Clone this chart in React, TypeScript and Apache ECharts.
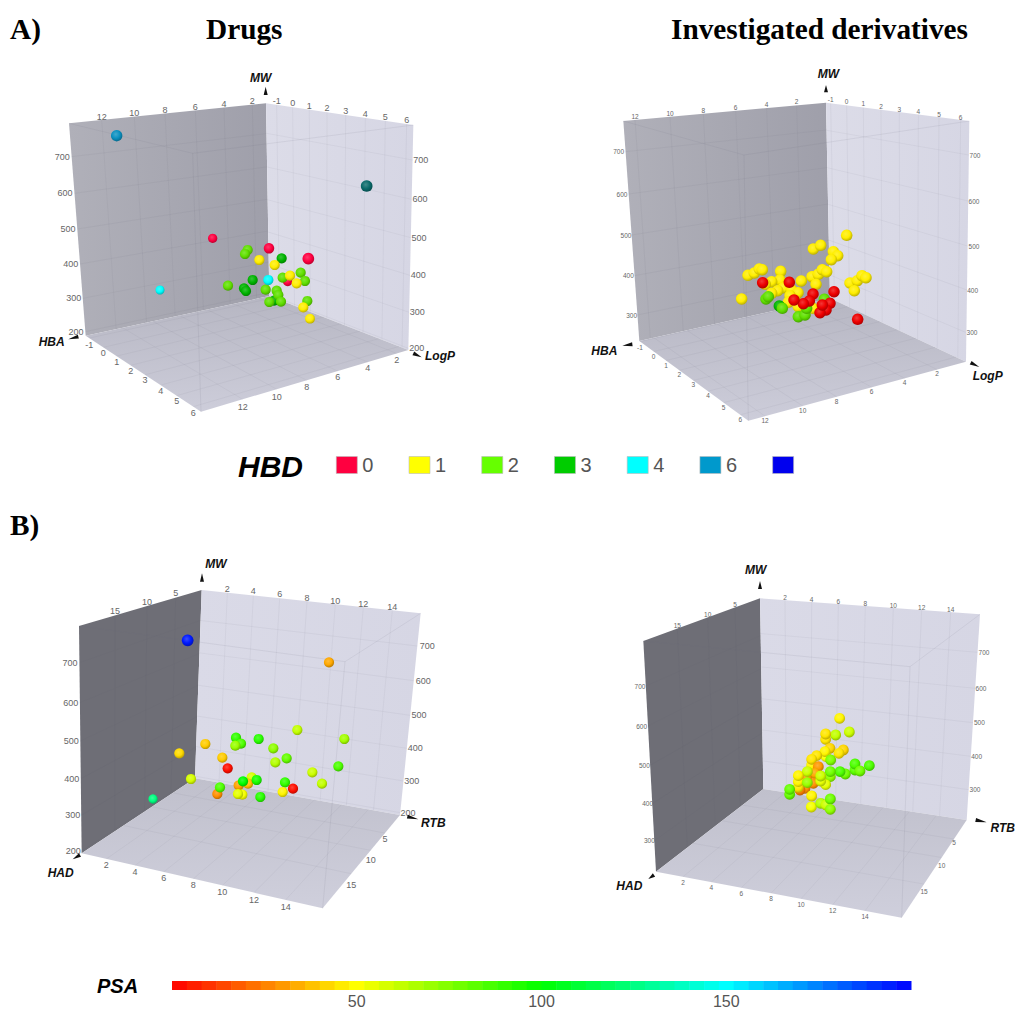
import React, { useEffect, useRef } from "react";
import * as echarts from "echarts";

// ---- tick labels -------------------------------------------------------
const mwTicks = ["700", "600", "500", "400", "300", "200"];
const mwTicksShort = ["700", "600", "500", "400", "300"];
const hbaTicks = ["-1", "0", "1", "2", "3", "4", "5", "6"];
const logPTicks = ["12", "10", "8", "6", "4", "2"];
const hadTicks = ["2", "4", "6", "8", "10", "12", "14"];
const rtbTicks = ["5", "10", "15"];

// ---- HBD classes, values read in each panel's projected plane [h, v, depth]
const drugsHbd0 = [[638, 535, 0.2], [807, 565, 0.6], [925, 596, 1], [863, 664, 0.3]];
const drugsHbd1 = [[778, 600], [824, 615], [870, 647], [890, 670], [910, 742], [930, 776, 0.4]];
const drugsHbd2 = [[743, 570], [735, 582], [684, 677], [797, 689], [830, 692], [835, 705], [808, 726], [843, 725], [848, 653], [902, 638], [915, 663], [922, 723]];
const drugsHbd3 = [[845, 595], [758, 660], [732, 685], [738, 693], [822, 722]];
const drugsHbd4 = [[805, 660], [480, 690, 0.1]];
const drugsHbd6 = [[350, 227, 0.9]];
const drugsHbdOuter = [[1100, 378, 1]];

const derivHbd0 = [[608, 668], [688, 667], [822, 695], [759, 702], [748, 723], [730, 731], [810, 730], [798, 750], [780, 758], [787, 735], [893, 778], [702, 720]];
const derivHbd1 = [[860, 526], [760, 567], [782, 556], [820, 575], [833, 587], [814, 599], [662, 634], [564, 646], [583, 639], [598, 627], [607, 629], [756, 650], [775, 643], [787, 629], [800, 635], [768, 673], [724, 663], [660, 660], [635, 665], [616, 673], [670, 683], [653, 692], [635, 700], [695, 690], [714, 698], [545, 717], [870, 669], [892, 662], [906, 647], [918, 653], [883, 692], [690, 707], [685, 727], [705, 720], [715, 740], [758, 745], [785, 740]];
const derivHbd2 = [[618, 717], [625, 710], [667, 745], [793, 718], [715, 770], [735, 765], [740, 745]];
const derivHbd3 = [[658, 738]];

// ---- PSA coloured points [h, v, psa, depth]
const drugsPsa = [
  [473, 271, 195, 1], [897, 337, 33], [802, 540, 62], [943, 567, 68], [618, 563, 90], [633, 581, 85], [616, 587, 70],
  [686, 567, 92], [730, 595, 72], [526, 582, 40], [448, 610, 43], [577, 623, 40], [770, 625, 80], [736, 637, 65],
  [593, 655, 3], [925, 649, 85], [847, 667, 60], [876, 701, 62], [483, 687, 58], [665, 682, 58], [654, 701, 38],
  [626, 706, 32], [680, 690, 95], [639, 694, 100], [765, 697, 90], [789, 716, 3], [758, 726, 48], [562, 732, 28],
  [570, 712, 85], [637, 734, 52], [624, 732, 55], [691, 741, 92], [369, 747, 125, 0.2],
];
const derivPsa = [
  [719, 490, 48], [748, 531, 60], [707, 540, 62], [677, 553, 45], [677, 537, 45], [690, 580, 42], [730, 585, 42],
  [717, 595, 45], [678, 605, 50], [675, 590, 48], [650, 602, 45], [635, 630, 48], [635, 613, 45], [655, 635, 30],
  [645, 655, 33], [620, 670, 30], [640, 685, 28], [615, 700, 28], [600, 705, 25], [692, 615, 75], [765, 645, 82],
  [765, 627, 85], [780, 648, 78], [808, 632, 85], [736, 657, 78], [720, 650, 85], [691, 665, 72], [691, 650, 78],
  [677, 689, 55], [662, 678, 55], [662, 663, 60], [622, 650, 60], [595, 697, 45], [595, 680, 48], [595, 662, 48],
  [622, 683, 70], [569, 718, 80], [569, 703, 80], [635, 723, 48], [634, 756, 52], [662, 745, 65], [678, 750, 60],
  [691, 732, 78], [691, 763, 72],
];

// ---- colour key
const hbdColors: Record<string, string> = { "0": "#ff0040", "1": "#ffff00", "2": "#66ff00", "3": "#00cc00", "4": "#00ffff", "6": "#0099cc", " ": "#0000ee" };
const legendNames = ["0", "1", "2", "3", "4", "6", " "];
const psaStops = ["#ff0000", "#ffff00", "#00ff00", "#00ffff", "#0000ff"];
const psaBands = Array.from({ length: 50 }, (_, i) => [i * 4, i * 4 + 4]);

// ---- helpers
const hex = (c: string) => [1, 3, 5].map((i) => parseInt(c.slice(i, i + 2), 16));
const mix = (a: string, b: string, t: number) => {
  const A = hex(a), B = hex(b);
  const m = A.map((v, i) => Math.round(v + (B[i] - v) * t));
  return "#" + m.map((v) => v.toString(16).padStart(2, "0")).join("");
};
const psaColor = (v: number) => {
  const p = Math.max(0, Math.min(199.99, v)) / 50;
  const i = Math.floor(p);
  return mix(psaStops[i], psaStops[i + 1], p - i);
};
const ball = (c: string) =>
  new echarts.graphic.RadialGradient(0.42, 0.38, 0.66, [
    { offset: 0, color: mix(c, "#ffffff", 0.22) },
    { offset: 0.55, color: c },
    { offset: 1, color: mix(c, "#000000", 0.3) },
  ]);
const at = (a: number[], b: number[], t: number) => [a[0] + (b[0] - a[0]) * t, a[1] + (b[1] - a[1]) * t];

type Pt = number[];
interface Panel {
  box: { left: number; top: number; w: number; h: number };
  LT: Pt; LB: Pt; BT: Pt; BB: Pt; RT: Pt; RB: Pt; FB: Pt; FT: Pt;
  leftWall: string[]; rightWall: string[]; floor: string[];
  font: number;
  mwL: { t: string[]; p: Pt[] };
  mwR: { t: string[]; p: Pt[] };
  topL: { t: string[]; p: Pt[] };
  topR: { t: string[]; p: Pt[] };
  floorA: { t: string[]; p: Pt[] };
  floorB: { t: string[]; p: Pt[] };
  titles: [string, number, number][];
  arrows: number[][];
}

const panelA1: Panel = {
  box: { left: 0, top: 60, w: 480, h: 370 },
  LT: [207, 190], LB: [257, 827], BT: [798, 130], BB: [808, 708], RT: [1240, 195], RB: [1225, 870], FB: [603, 1055], FT: [578, 280],
  leftWall: ["#b0b0b9", "#9f9faa"], rightWall: ["#dcdce8", "#d6d6e4"], floor: ["#b6b6c2", "#cdcdda"],
  font: 9,
  mwL: { t: mwTicks, p: [[187, 290], [195, 400], [204, 507], [212, 612], [221, 715], [228, 815]] },
  mwR: { t: mwTicks, p: [[1262, 300], [1260, 418], [1257, 533], [1255, 646], [1252, 757], [1250, 865]] },
  topL: { t: logPTicks, p: [[305, 170], [403, 160], [495, 150], [586, 141], [672, 132], [757, 123]] },
  topR: { t: hbaTicks, p: [[830, 123], [878, 129], [928, 137], [981, 145], [1037, 153], [1096, 161], [1156, 170], [1220, 179]] },
  floorA: { t: hbaTicks, p: [[268, 855], [310, 878], [350, 905], [392, 932], [435, 960], [482, 992], [530, 1023], [580, 1058]] },
  floorB: { t: logPTicks, p: [[728, 1040], [830, 1010], [920, 980], [1013, 952], [1103, 925], [1190, 900]] },
  titles: [["MW", 782, 53], ["HBA", 155, 847], ["LogP", 1320, 888]],
  arrows: [[797, 105, 797, 80], [235, 830, 205, 838], [1240, 880, 1265, 892]],
};
const panelA2: Panel = {
  box: { left: 560, top: 60, w: 455, h: 380 },
  LT: [190, 183], LB: [238, 843], BT: [798, 128], BB: [810, 715], RT: [1228, 183], RB: [1218, 905], FB: [565, 1082], FT: [552, 285],
  leftWall: ["#b0b0b9", "#9f9faa"], rightWall: ["#dcdce8", "#d6d6e4"], floor: ["#b6b6c2", "#cdcdda"],
  font: 6.5,
  mwL: { t: mwTicksShort, p: [[176, 275], [186, 402], [198, 525], [205, 647], [215, 765]] },
  mwR: { t: mwTicksShort, p: [[1245, 285], [1242, 423], [1242, 558], [1238, 690], [1236, 818]] },
  topL: { t: logPTicks, p: [[225, 170], [330, 160], [430, 152], [527, 143], [620, 133], [710, 125]] },
  topR: { t: hbaTicks, p: [[812, 118], [860, 124], [910, 131], [963, 140], [1018, 147], [1075, 155], [1137, 163], [1202, 172]] },
  floorA: { t: hbaTicks, p: [[240, 862], [281, 888], [318, 915], [358, 944], [400, 974], [444, 1006], [491, 1041], [541, 1077]] },
  floorB: { t: logPTicks, p: [[615, 1082], [728, 1052], [830, 1023], [935, 994], [1034, 966], [1131, 939]] },
  titles: [["MW", 805, 43], ["HBA", 133, 874], ["LogP", 1283, 948]],
  arrows: [[798, 97, 798, 75], [217, 853, 187, 857], [1232, 908, 1258, 921]],
};
const panelB1: Panel = {
  box: { left: 30, top: 550, w: 430, h: 370 },
  LT: [147, 228], LB: [155, 910], BT: [515, 120], BB: [495, 685], RT: [1172, 190], RB: [1110, 795], FB: [878, 1075], FT: [945, 335],
  leftWall: ["#6e6e76", "#6e6e76"], rightWall: ["#dadae7", "#d6d6e4"], floor: ["#c0c0cc", "#cfcfdc"],
  font: 9,
  mwL: { t: mwTicks, p: [[120, 338], [122, 458], [124, 573], [125, 686], [128, 796], [130, 903]] },
  mwR: { t: mwTicks, p: [[1192, 288], [1180, 392], [1167, 496], [1156, 595], [1145, 693], [1134, 788]] },
  topL: { t: ["15", "10", "5"], p: [[255, 184], [351, 155], [437, 130]] },
  topR: { t: hadTicks, p: [[592, 116], [670, 124], [749, 133], [831, 143], [916, 152], [1000, 162], [1087, 172]] },
  floorA: { t: hadTicks, p: [[229, 945], [315, 966], [401, 985], [490, 1006], [577, 1027], [672, 1050], [767, 1072]] },
  floorB: { t: rtbTicks, p: [[1065, 866], [1022, 931], [964, 1005]] },
  titles: [["MW", 558, 43], ["HAD", 92, 970], ["RTB", 1210, 818]],
  arrows: [[516, 95, 516, 70], [150, 915, 128, 928], [1132, 800, 1165, 808]],
};
const panelB2: Panel = {
  box: { left: 600, top: 555, w: 415, h: 370 },
  LT: [130, 258], LB: [168, 950], BT: [480, 130], BB: [490, 702], RT: [1140, 178], RB: [1100, 795], FB: [905, 1088], FT: [930, 335],
  leftWall: ["#6e6e76", "#6e6e76"], rightWall: ["#dadae7", "#d6d6e4"], floor: ["#c0c0cc", "#cfcfdc"],
  font: 6.5,
  mwL: { t: mwTicksShort, p: [[120, 393], [125, 513], [133, 631], [143, 746], [148, 857]] },
  mwR: { t: mwTicksShort, p: [[1152, 292], [1143, 400], [1138, 503], [1130, 604], [1125, 704]] },
  topL: { t: ["15", "10", "5"], p: [[232, 212], [323, 178], [405, 148]] },
  topR: { t: hadTicks, p: [[555, 126], [635, 132], [715, 138], [796, 145], [880, 150], [965, 157], [1052, 163]] },
  floorA: { t: hadTicks, p: [[249, 981], [334, 998], [424, 1014], [513, 1031], [603, 1048], [698, 1067], [795, 1085]] },
  floorB: { t: rtbTicks, p: [[1062, 862], [1025, 930], [972, 1008]] },
  titles: [["MW", 467, 45], ["HAD", 88, 994], ["RTB", 1208, 820]],
  arrows: [[480, 102, 480, 78], [162, 960, 145, 972], [1127, 795, 1160, 802]],
};
const panels = [panelA1, panelA2, panelB1, panelB2];

const GRID = "rgba(80,80,100,0.08)";
const EDGE = "rgba(110,110,130,0.14)";

function frameSeries(p: Panel, idx: number) {
  return {
    type: "custom",
    name: "frame" + idx,
    xAxisIndex: idx,
    yAxisIndex: idx,
    silent: true,
    z: 1,
    clip: false,
    data: [[0, 0]],
    renderItem: (_: any, api: any) => {
      const c = (q: Pt) => api.coord(q);
      const poly = (pts: Pt[], colors: string[], horizontal: boolean) => ({
        type: "polygon",
        shape: { points: pts.map(c) },
        style: {
          fill: new echarts.graphic.LinearGradient(0, 0, horizontal ? 1 : 0, horizontal ? 0 : 1, [
            { offset: 0, color: colors[0] },
            { offset: 1, color: colors[1] },
          ]),
        },
      });
      const seg = (a: Pt, b: Pt, stroke = GRID, w = 0.8) => {
        const A = c(a), B = c(b);
        return { type: "line", shape: { x1: A[0], y1: A[1], x2: B[0], y2: B[1] }, style: { stroke, lineWidth: w } };
      };
      const kids: any[] = [
        poly([p.LT, p.BT, p.BB, p.LB], p.leftWall, true),
        poly([p.BT, p.RT, p.RB, p.BB], p.rightWall, true),
        poly([p.LB, p.BB, p.RB, p.FB], p.floor, false),
      ];
      // MW grid on the two back walls
      p.mwL.p.forEach((q) => {
        const f = (q[1] - p.LT[1]) / (p.LB[1] - p.LT[1]);
        kids.push(seg(at(p.LT, p.LB, f), at(p.BT, p.BB, f)));
      });
      p.mwR.p.forEach((q) => {
        const f = (q[1] - p.RT[1]) / (p.RB[1] - p.RT[1]);
        kids.push(seg(at(p.BT, p.BB, f), at(p.RT, p.RB, f)));
      });
      p.topL.p.forEach((q) => {
        const f = (q[0] - p.LT[0]) / (p.BT[0] - p.LT[0]);
        kids.push(seg(at(p.LT, p.BT, f), at(p.LB, p.BB, f)));
      });
      p.topR.p.forEach((q) => {
        const f = (q[0] - p.BT[0]) / (p.RT[0] - p.BT[0]);
        kids.push(seg(at(p.BT, p.RT, f), at(p.BB, p.RB, f)));
      });
      p.floorA.p.forEach((q) => {
        const f = (q[0] - p.LB[0]) / (p.FB[0] - p.LB[0]);
        kids.push(seg(at(p.LB, p.FB, f), at(p.BB, p.RB, f)));
      });
      p.floorB.p.forEach((q) => {
        const f = (q[0] - p.FB[0]) / (p.RB[0] - p.FB[0]);
        kids.push(seg(at(p.FB, p.RB, f), at(p.LB, p.BB, f)));
      });
      // near edges of the see-through box
      kids.push(seg(p.LT, p.FT, EDGE), seg(p.RT, p.FT, EDGE), seg(p.FT, p.FB, EDGE));
      // tick labels
      [p.mwL, p.mwR, p.topL, p.topR, p.floorA, p.floorB].forEach((set) =>
        set.t.forEach((text, i) => {
          const [x, y] = c(set.p[i]);
          kids.push({
            type: "text",
            x, y,
            style: { text, fill: "#666666", fontSize: p.font, fontFamily: "Liberation Sans", align: "center", verticalAlign: "middle" },
          });
        })
      );
      // axis titles and arrow heads
      p.titles.forEach(([text, tx, ty]) => {
        const [x, y] = c([tx, ty]);
        kids.push({
          type: "text",
          x, y,
          style: { text, fill: "#111", fontSize: 12, fontWeight: "bold", fontStyle: "italic", fontFamily: "Liberation Sans", align: "center", verticalAlign: "middle" },
        });
      });
      p.arrows.forEach(([x1, y1, x2, y2]) => {
        const len = Math.hypot(x2 - x1, y2 - y1);
        const nx = (-(y2 - y1) / len) * 6, ny = ((x2 - x1) / len) * 6;
        kids.push({
          type: "polygon",
          shape: { points: [[x2, y2], [x1 + nx, y1 + ny], [x1 - nx, y1 - ny]].map(c) },
          style: { fill: "#111" },
        });
      });
      return { type: "group", children: kids };
    },
  };
}

function hbdSeries(name: string, pts: number[][], idx: number, size: number, color?: string) {
  const base = color ?? hbdColors[name];
  return {
    type: "scatter",
    name,
    xAxisIndex: idx,
    yAxisIndex: idx,
    z: 3,
    symbol: "circle",
    symbolSize: (v: number[]) => size * (0.85 + 0.3 * (v[2] ?? 0.5)),
    itemStyle: { color: hbdColors[name] ?? base, opacity: 1 },
    data: pts.map((v) => ({ value: v, itemStyle: { color: ball(base), opacity: 1 } })),
  };
}
function psaSeries(name: string, pts: number[][], idx: number, size: number) {
  return {
    type: "scatter",
    name,
    xAxisIndex: idx,
    yAxisIndex: idx,
    z: 3,
    symbol: "circle",
    symbolSize: (v: number[]) => size * (0.85 + 0.3 * (v[3] ?? 0.5)),
    itemStyle: { opacity: 1 },
    data: pts.map((v) => ({ value: v, itemStyle: { color: ball(psaColor(v[2])), opacity: 1 } })),
  };
}

const headline = (text: string, x: number, y: number) => ({
  type: "text", x, y,
  style: { text, fill: "#000", font: "bold 29.3px 'Liberation Serif'", verticalAlign: "middle" },
});

function buildOption() {
  const grids: any[] = panels.map((p) => ({ left: p.box.left, top: p.box.top, width: p.box.w, height: p.box.h }));
  grids.push({ left: 172, top: 981, width: 739, height: 10 });
  const xAxes: any[] = panels.map((p, i) => ({ type: "value", gridIndex: i, min: 0, max: p.box.w * 3, show: false }));
  xAxes.push({
    type: "value", gridIndex: 4, min: 0, max: 200, interval: 50,
    axisLine: { show: false }, axisTick: { show: false }, splitLine: { show: false },
    axisLabel: { color: "#555", fontSize: 16, fontFamily: "Liberation Sans", margin: 3, showMinLabel: false, showMaxLabel: false },
  });
  const yAxes: any[] = panels.map((p, i) => ({ type: "value", gridIndex: i, min: 0, max: p.box.h * 3, inverse: true, show: false }));
  yAxes.push({ type: "value", gridIndex: 4, min: 0, max: 1, show: false });

  const series: any[] = [
    ...panels.map((p, i) => frameSeries(p, i)),
    hbdSeries("0", drugsHbd0, 0, 10.2),
    hbdSeries("3", drugsHbd3, 0, 10.2, "#00b400"),
    hbdSeries("2", drugsHbd2, 0, 10.2, "#60e000"),
    hbdSeries("1", drugsHbd1, 0, 10.2, "#ffee00"),
    hbdSeries("4", drugsHbd4, 0, 10.2),
    hbdSeries("6", drugsHbd6, 0, 10.2, "#0a90c0"),
    hbdSeries("HBD beyond key", drugsHbdOuter, 0, 10.2, "#0a6a6a"),
    hbdSeries(" ", [], 0, 10),
    hbdSeries("1", derivHbd1, 1, 11.5, "#ffee00"),
    hbdSeries("3", derivHbd3, 1, 11.5, "#00b400"),
    hbdSeries("2", derivHbd2, 1, 11.5, "#60e000"),
    hbdSeries("0", derivHbd0, 1, 11.5, "#ee0000"),
    psaSeries("PSA drugs", drugsPsa, 2, 10.2),
    psaSeries("PSA derivatives", derivPsa, 3, 10.8),
    {
      type: "custom", name: "PSA key", xAxisIndex: 4, yAxisIndex: 4, silent: true, z: 2, clip: false,
      data: psaBands,
      renderItem: (_: any, api: any) => {
        const s = api.value(0), e = api.value(1);
        const a = api.coord([s, 1]), b = api.coord([e, 0]);
        return {
          type: "rect",
          shape: { x: a[0], y: a[1], width: b[0] - a[0] + 0.5, height: b[1] - a[1] },
          style: { fill: psaColor((s + e) / 2) },
        };
      },
    },
  ];

  return {
    animation: false,
    backgroundColor: "#fff",
    grid: grids,
    xAxis: xAxes,
    yAxis: yAxes,
    legend: {
      data: legendNames,
      left: 336, top: 455, width: 640, padding: 0,
      icon: "rect", itemWidth: 21, itemHeight: 17, itemGap: 35.3,
      selectedMode: false,
      itemStyle: { borderColor: "#bbbbbb", borderWidth: 0.6, opacity: 1 },
      textStyle: { color: "#555", fontSize: 20, fontFamily: "Liberation Sans" },
    },
    graphic: {
      elements: [
        headline("A)", 10, 29),
        headline("Drugs", 206, 29),
        headline("Investigated derivatives", 671, 29),
        headline("B)", 10, 525),
        { type: "text", x: 238, y: 466, style: { text: "HBD", fill: "#000", font: "italic bold 30px 'Liberation Sans'", verticalAlign: "middle" } },
        { type: "text", x: 97, y: 986, style: { text: "PSA", fill: "#000", font: "italic bold 20px 'Liberation Sans'", verticalAlign: "middle" } },
      ],
    },
    series,
  };
}

export default function App() {
  const ref = useRef<HTMLDivElement>(null);
  useEffect(() => {
    const chart = echarts.init(ref.current!, undefined, { renderer: "svg" });
    chart.setOption(buildOption() as any);
    return () => chart.dispose();
  }, []);
  return <div ref={ref} style={{ position: "absolute", left: 0, top: 0, width: 1015, height: 1009 }} />;
}
